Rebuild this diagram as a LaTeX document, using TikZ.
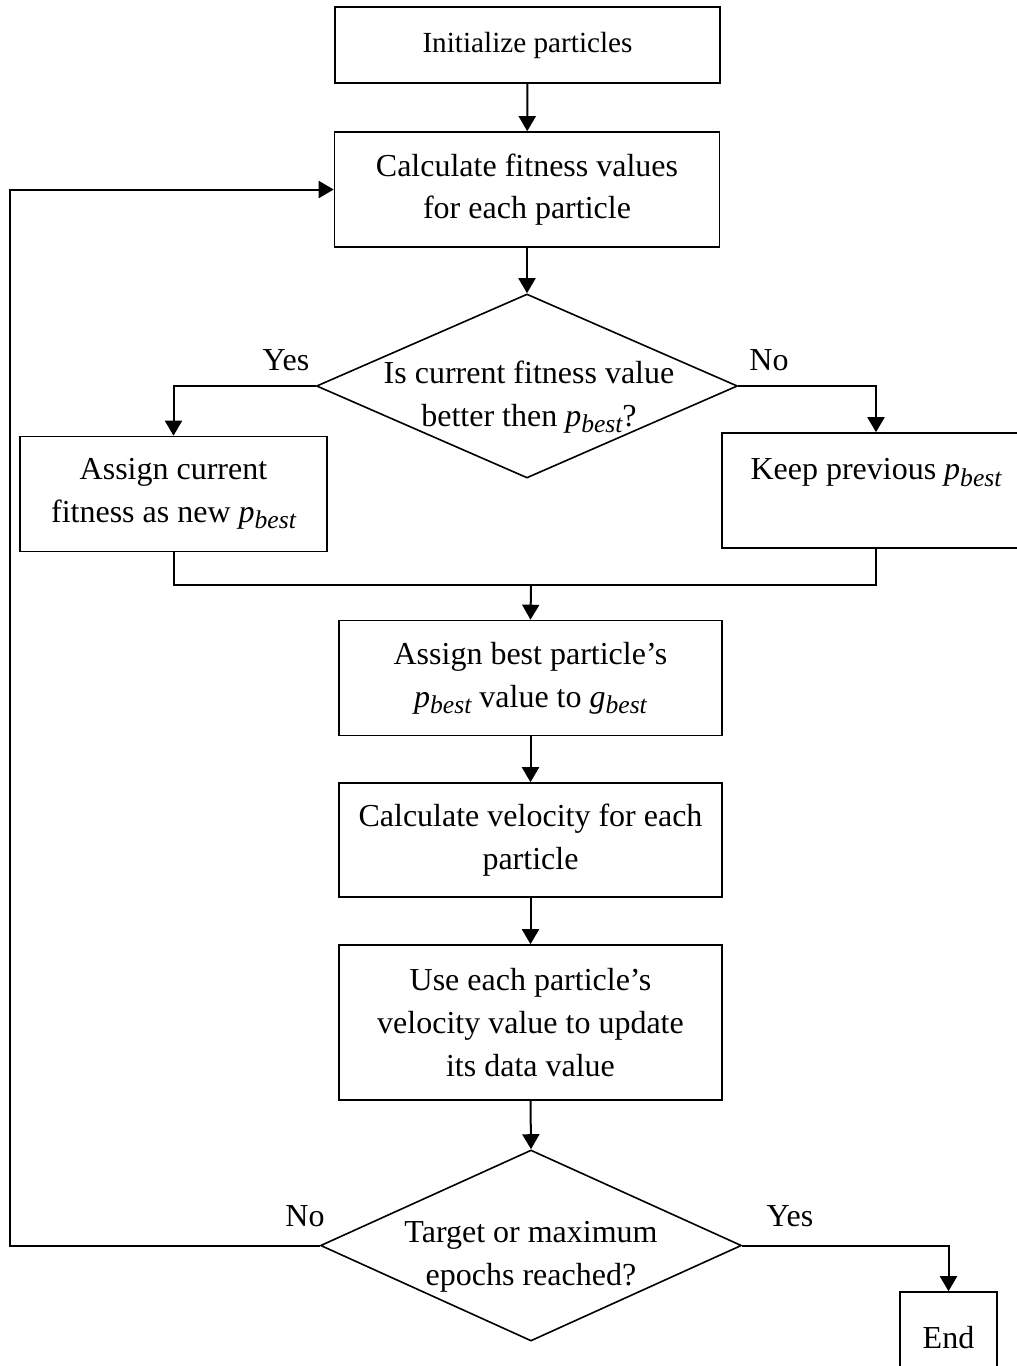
\documentclass[tikz,border=0pt]{standalone}
\usepackage{fontspec}
\setmainfont{Liberation Serif}
\usetikzlibrary{shapes.geometric,arrows.meta}

% italic quantity with a lowered italic subscript, in the text face
\newcommand{\qty}[2]{\textit{#1}\raisebox{-3.2pt}{\fontsize{12.8}{14}\selectfont\itshape #2}}

\begin{document}
\begin{tikzpicture}[x=0.5pt,y=-0.5pt,
  every node/.style={font=\fontsize{16}{21.3}\selectfont},
  box/.style={draw,line width=0.8pt,rectangle,align=center,inner sep=0pt},
  decision/.style={draw,line width=0.8pt,diamond,inner sep=0pt},
  lbl/.style={inner sep=0pt},
  flow/.style={line width=1pt,-{Triangle[length=7.5pt,width=8.5pt]}},
  wire/.style={line width=1pt}
]
\useasboundingbox (0,0) rectangle (1017,1366);

% process boxes and decisions
\node[box,minimum width=192.5pt,minimum height=38pt,font=\fontsize{14.6}{20}\selectfont]
  (init) at (527.5,45) {Initialize particles};
\node[box,minimum width=192.5pt,minimum height=57.5pt]
  (fit) at (527,189.5) {Calculate fitness values\\for each particle};
\node[decision,minimum width=210.5pt,minimum height=92pt] (d1) at (527,386) {};
\node[lbl,align=center] (d1t) at (529,397) {Is current fitness value\\better then \qty{p}{best}?};
\node[box,minimum width=153.5pt,minimum height=57.5pt]
  (asg) at (173.5,494) {Assign current\\fitness as new \qty{p}{best}};
\node[box,minimum width=154pt,minimum height=57.5pt]
  (keep) at (876,490.5) {Keep previous \qty{p}{best}\\\mbox{}};
\coordinate (merge) at (531,585);
\node[box,minimum width=191.5pt,minimum height=57.5pt]
  (gb) at (530.5,678) {Assign best particle's\\\qty{p}{best} value to \qty{g}{best}};
\node[box,minimum width=191.5pt,minimum height=57pt]
  (vel) at (530.5,840) {Calculate velocity for each\\particle};
\node[box,minimum width=191.5pt,minimum height=77.5pt]
  (upd) at (530.5,1022.5) {Use each particle's\\velocity value to update\\its data value};
\node[decision,minimum width=210.5pt,minimum height=95.5pt] (d2) at (531,1245.5) {};
\node[lbl,align=center] (d2t) at (531,1257) {Target or maximum\\epochs reached?};
\node[box,minimum width=48.5pt,minimum height=46pt] (endb) at (948.5,1338) {End};

% branch labels
\node[lbl] (y1) at (286,360) {Yes};
\node[lbl] (n1) at (769,360) {No};
\node[lbl] (n2) at (305,1216) {No};
\node[lbl] (y2) at (790,1216) {Yes};

% connectors
\draw[flow] (init) -- (fit);
\draw[flow] (fit) -- (d1.north);
\draw[flow] (d1.west) -| (asg.north);
\draw[flow] (d1.east) -| (keep.north);
\draw[wire] (asg.south) |- (merge) -| (keep.south);
\draw[flow] (merge) -- (gb.north);
\draw[flow] (gb) -- (vel);
\draw[flow] (vel) -- (upd);
\draw[flow] (upd.south) -- (d2.north);
\draw[flow] (d2.west) -- (10,1245.5) |- (fit.west);
\draw[flow] (d2.east) -| (endb.north);
\end{tikzpicture}
\end{document}
